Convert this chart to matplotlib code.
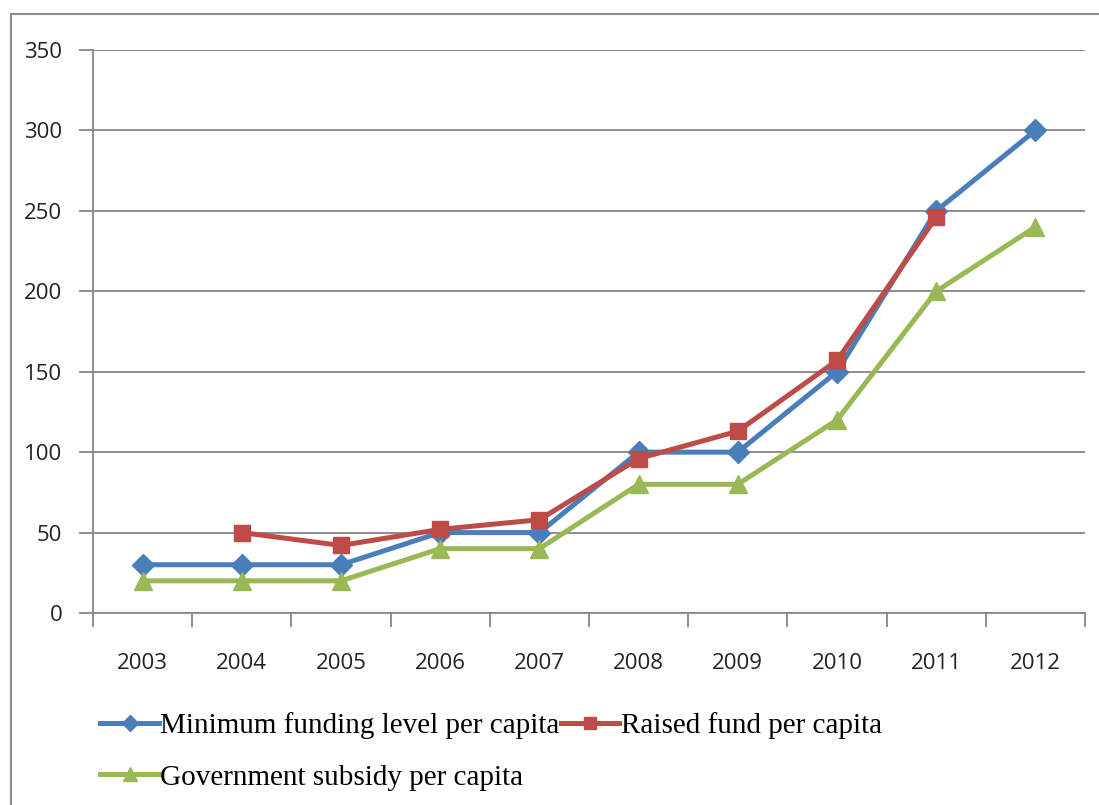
import matplotlib.pyplot as plt
from matplotlib.patches import Rectangle

years = ['2003', '2004', '2005', '2006', '2007', '2008', '2009', '2010', '2011', '2012']
minimum_funding = [30, 30, 30, 50, 50, 100, 100, 150, 250, 300]
raised_years = ['2004', '2005', '2006', '2007', '2008', '2009', '2010', '2011']
raised_fund = [50, 42, 52, 58, 96, 113, 157, 246]
gov_subsidy = [20, 20, 20, 40, 40, 80, 80, 120, 200, 240]
y_ticks = [0, 50, 100, 150, 200, 250, 300, 350]

blue = '#4A7EBB'
red = '#BE4B48'
green = '#98B954'
grid_gray = '#868686'

fig = plt.figure(figsize=(10.99, 8.05), dpi=100)
fig.patches.append(Rectangle((11 / 1099, -0.1), 1.2, 0.1 + (805 - 14) / 805,
                             transform=fig.transFigure, fill=False,
                             edgecolor='#8c8c8c', linewidth=1.5))

ax = fig.add_axes([93 / 1099, 1 - 613 / 805, (1085 - 93) / 1099, (613 - 50) / 805])

xpos = list(range(len(years)))
raised_pos = [years.index(y) for y in raised_years]

l1, = ax.plot(xpos, minimum_funding, color=blue, lw=3.6, marker='D', ms=11,
              label='Minimum funding level per capita', zorder=3)
l3, = ax.plot(xpos, gov_subsidy, color=green, lw=3.6, marker='^', ms=13,
              label='Government subsidy per capita', zorder=3)
l2, = ax.plot(raised_pos, raised_fund, color=red, lw=3.6, marker='s', ms=12,
              label='Raised fund per capita', zorder=4)

ax.set_xlim(-0.5, len(years) - 0.5)
ax.set_ylim(0, 350)
ax.set_yticks(y_ticks)
ax.set_yticklabels([str(v) for v in y_ticks], fontsize=16, family='Open Sans',
                   color='#222222')
ax.yaxis.grid(True, color=grid_gray, lw=1.3)
ax.set_axisbelow(True)
ax.tick_params(axis='y', length=10, width=1.3, color=grid_gray, pad=12)

ax.set_xticks(xpos)
ax.set_xticklabels(years, fontsize=16, family='Open Sans', color='#222222')
ax.set_xticks([x - 0.5 for x in range(len(years) + 1)], minor=True)
ax.tick_params(axis='x', which='major', length=0, pad=29)
ax.tick_params(axis='x', which='minor', length=10, width=1.3, color=grid_gray)

for side in ['top', 'right']:
    ax.spines[side].set_visible(False)
ax.spines['left'].set_color(grid_gray)
ax.spines['bottom'].set_color(grid_gray)
ax.spines['left'].set_linewidth(1.3)
ax.spines['bottom'].set_linewidth(1.3)

fig.legend([l1, l3, l2], [l1.get_label(), l3.get_label(), l2.get_label()],
           ncol=2, loc='upper left', bbox_to_anchor=(80 / 1099, 1 - 692 / 805),
           frameon=False, prop={'family': 'Liberation Serif', 'size': 21},
           handlelength=2.0, handletextpad=0.05, columnspacing=0.05,
           labelspacing=0.85, markerscale=0.75, borderpad=0.2)

plt.savefig('out.png', dpi=100)
